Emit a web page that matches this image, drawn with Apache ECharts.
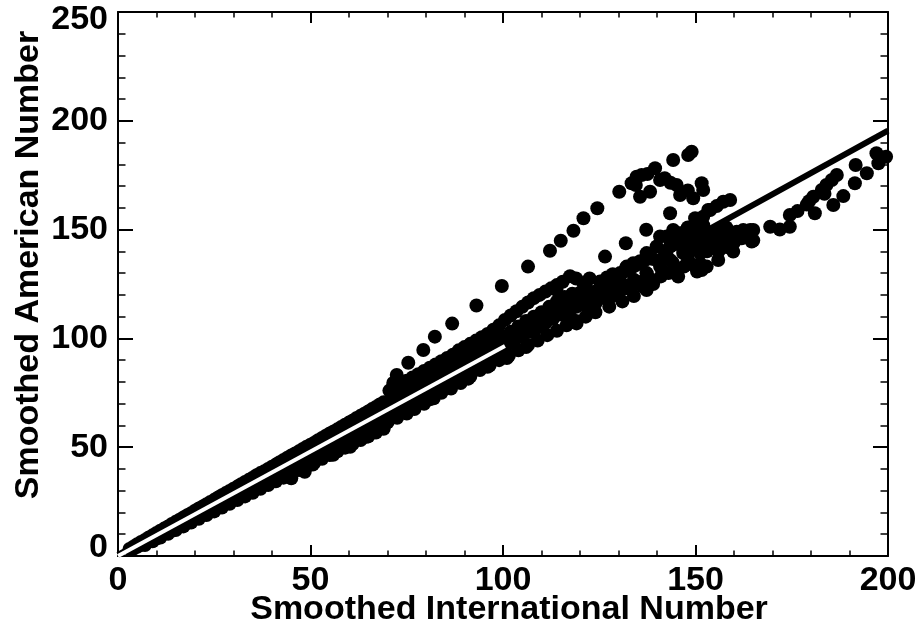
<!DOCTYPE html>
<html>
<head>
<meta charset="utf-8">
<script src="https://cdn.jsdelivr.net/npm/echarts@6/dist/echarts.min.js"></script>
<style>
html,body{margin:0;padding:0;background:#fff;overflow:hidden;}
#chart{width:915px;height:633px;}
</style>
</head>
<body>
<div id="chart"></div>
<script>
// ---- data (x = International, y = American) ----
const xTicks = [0, 50, 100, 150, 200];
const yTicks = [0, 50, 100, 150, 200, 250];

const upperBand = [[3,3.2],[4,4.3],[5,5.4],[6,6.4],[7,7.4],[8,8.5],[9,9.5],[10,10.6],[11,11.6],[12,12.6],[13,13.6],[14,14.7],[15,15.7],[16,16.7],[17,17.7],[18,18.7],[19,19.7],[20,20.8],[21,21.8],[22,22.8],[23,23.8],[24,24.8],[25,25.8],[26,26.9],[27,27.9],[28,28.9],[29,29.9],[30,30.9],[31,31.9],[32,33.0],[33,34.0],[34,35.0],[35,36.0],[36,37.1],[37,38.1],[38,39.0],[39,40.0],[40,41.0],[41,42.0],[42,43.1],[43,44.1],[44,45.2],[45,46.2],[46,47.1],[47,48.1],[48,49.2],[49,50.2],[50,51.1],[51,52.1],[52,53.2],[53,54.2],[54,55.3],[55,56.3],[56,57.2],[57,58.2],[58,59.3],[59,60.3],[60,61.3],[61,62.3],[62,63.4],[63,64.4],[64,65.4],[65,66.4],[66,67.5],[67,68.5],[68,69.6],[69,70.6],
  [71,72],[72,73],[73,74],[74,75],[75,76],[76,77],[77,78],[78,79],[79,80],[80,81],[81,82],[82,83],[83,84],[84,85],[85,86],[86,87],[87,88],[88,89],[89,90],[90,91],[91,92],[92,93],[93,94],[94,95],[95,96],[96,97],[97,98],[98,99],[99,100]];

const bump = [[70.5,76],[71.5,79.5],[73.5,78],[75,80.5],[76.5,82],[78,83.5],[79.5,85],[81,86.5],[82.5,88],[84,89.5],[85.5,91],[87,92.5],[88.5,94.5],[90,96],[91.5,97.5],[93,99],[94.5,100.5],[96,102],[97.5,104],[99,106],[100.5,108.5],[102,110.5],[103.5,112.5],[105,114.5],[106.5,116.5],[108,118.5],[109.5,120],[111,121.5],[112.5,123],[114,124.5],[115.5,126],[117.4,128.6],[119,127.5],[120.9,125.3],[122.5,127.5],[125.2,126.1],[127,128],[128.5,129.5],[130.4,130],[132,132.5],[133.8,134.5],[135.6,135.5],[137.3,130],[139,136.5],[140.8,133],[142.5,138]];

const lowerBand = [[4,3.3],[5,4.2],[6,5.1],[7,6.1],[8,7.0],[9,8.0],[10,8.9],[11,9.8],[12,10.8],[13,11.7],[14,12.7],[15,13.6],[16,14.5],[17,15.5],[18,16.4],[19,17.4],[20,18.3],[21,19.2],[22,20.2],[23,21.1],[24,22.1],[25,23.0],[26,23.9],[27,24.9],[28,25.8],[29,26.8],[30,27.7],[31,28.6],[32,29.6],[33,30.5],[34,31.5],[35,32.4],[36,33.3],[37,34.3],[38,35.2],[39,36.2],[40,37.1],[41,38.0],[42,39.0],[43,39.9],[44,40.9],[45,41.8],[46,42.7],[47,43.7],[48,44.6],[49,45.6],[50,46.5],[51,47.4],[52,48.4],[53,49.3],[54,50.3],[55,51.2],[56,52.1],[57,53.1],[58,54.0],[59,55.0],[60,55.9],[61,56.8],[62,57.8],[63,58.7],[64,59.7],[65,60.6],[66,61.5],[67,62.5],[68,63.4],[69,64.4],[70,65.3],[71,66.2],[72,67.2],[73,68.1],[74,69.1],[75,70.0],[76,70.9],[77,71.9],[78,72.8],[79,73.8],[80,74.7],[81,75.6],[82,76.6],[83,77.5],[84,78.5],[85,79.4],[86,80.3],[87,81.3],[88,82.2],[89,83.2],[90,84.1],[91,85.0],[92,86.0],[93,86.9],[94,87.9],[95,88.8],[96,89.7],[97,90.7],[98,91.6],[99,92.6],[100,93.5]];

const lowerBand2 = [[7,5.0],[9,6.8],[11,8.5],[13,10.2],[15,11.9],[17,13.6],[19,15.4],[21,17.1],[23,18.8],[25,20.5],[27,22.3],[29,24.0],[31,25.7],[33,27.4],[35,29.1],[37,30.9],[39,32.6],[41,34.3],[43,36.0],[45,37.8],[47,39.5],[49,41.2],[51,42.9],[53,44.7],[55,46.4],[57,48.1],[59,49.8],[61,51.6],[63,53.3],[65,55.0],[67,56.7],[69,58.5],
  [10,8.0],[14,11.6],[18,15.2],[22,18.8],[26,22.4],[30,26.0],[34,29.6],[38,33.2],[42,36.8],[46,40.4],[50,44.0],[54,47.6],[58,51.2],[62,54.8],[66,58.4],[70,62.0],
  [37.5,32.5],[45,35.7],[48.5,38.7],[50.6,42],[55.9,46.5],[60.3,50.2],[64.6,54.8],[68.9,58.8]];

const lowerEdge = [[70,61.5],[72.5,63.5],[75,65.5],[77,67.5],[79.5,70],[82,72.5],[84,75],[86.5,77],[89,79.5],[91.5,82.5],[94,85.5],[96.5,87.5],[99,90],[101.5,92],[104,94.5],[106.5,97],[109,99],[111.5,101.5],[114,103.5],[116.5,106],[119,108],[121.5,110],[124,112],[127.6,114.6],[131,117],[134,119.5],[137.3,122.2],
  [73,66],[76,68.5],[81,72],[86,78],[91,81.5],[96,87],[101,91],[106,96]];

const cloud = [[100,101],[102,103],[104,105.5],[106,108],[108,110],[110,112],[112,114.5],[114,117],[116,119],[118,120.5],[120,121],[122,122],[124,121.5],
  [101,97],[103,99],[105,101],[107,103],[109,105],[111,107],[113,109],[115,111],[117,113],[119,114.5],[121,116],[123,117.5],[125,119],
  [102,99.5],[104,101.5],[106,104.5],[108,106.5],[110,108.5],[112,111],[114,113],[116,115],[118,116.5],[120,118.5],[122,119],[124,116],[126,121],[128,124],[130,127],[126,125],[128,119],[130,121],[132,123],[134,124.5],[136,126],[138,127.5],[139,125],[141,128.5],[143,130],[145,132],[147,133],[149,134],
  [113.9,122.2],[119.1,119.2],[123.5,120.7],[113.9,113],[117.4,110],[121.7,114.6],[119.1,106.9],[129.5,122.2],[127,118],[131,125],[134,127],[136.4,123.8],[137.3,129.9],[139.9,142.2],[142.5,146.8],[144.2,149.8],[146,148.3],[147.7,146.8],[149.4,145.2],[143.4,142.2],[146.8,139.2],[145.5,128.4],[151.2,139.2],[152,143.7],[155.5,145.2],[158.1,146.8],[160.7,149],[164.2,149.8],[164.6,144.5],[159.8,139.9],[155.9,136],[151.6,131.4],[150.4,130.7],[141,136],[144,135],[148,137],[150,141],[153,140],[156.4,145.2],[159,148.3],[161.6,147.3],[165,145],[151.2,134.5],[152.9,133],[149,148.5],[151.2,148.3],[140.8,146.8],[145.1,148.3],[147.7,149.8],[137.3,139.2],[132.1,133],[143.4,136],[162.4,149.8],[165,149.8],
  [142,140],[144,144],[146,143],[148,142],[150,144],[152,146],[154,148],[156,149],[158,151],[154,142],[156,140],[158,142],[160,144],[162,146],[148,151],[150,151]];

const risingBranch = [[72.4,83.2],[75.4,88.8],[79.3,94.7],[82.3,100.8],[86.8,106.8],[93.1,115.1],[99.7,124.1],[106.5,133],[112.2,140.3],[115,144.9],[118.3,149.5],[120.9,155.2],[124.5,159.8],[130.2,167.4],[133.4,171.3],[136,175.1],[139.5,178.2],[144.2,182],[148.1,184.3],[149,185.8]];

const upperLoop = [[134.5,170.5],[135.6,165.1],[138.2,167.4],[140.8,172.8],[142,173.6],[143.5,171.5],[145.1,170.5],[146,165.9],[148,168],[149.4,164.4],[151.6,171.3],[152,168.2],[137.5,175.5],[134.7,174.3]];

const middleBranch = [[126.5,137.6],[131.9,143.7],[137.2,149.9],[143.4,157.5],[149.9,155.2],[150.3,154.4],[152,155.9],[153.8,159],[155.5,160.8],[157.2,162.8],[159,163.6],[153.3,159],[152,152]];

const rightBranch = [[169.4,151.3],[171.9,150],[174.5,151.3],[174.5,156.7],[176.5,158.5],[178.9,161.5],[181,157.5],[180.6,165.1],[182.8,168.2],[184,170.5],[185.4,172.8],[186.7,175.1],[185.8,161.3],[188.4,165.4],[191.4,171.3],[191.6,179.7],[194.5,175.9],[197,185.1],[197.5,180.5],[199.5,183.5],[183.5,166.5],[179.5,163]];

const blackFit = [[0,0.5],[200,195.5]];
const whiteFit = [[0,0],[100.5,96.5]];

// ---- chart ----
const points = [].concat(upperBand, bump, lowerBand, lowerBand2, lowerEdge, cloud, risingBranch, upperLoop, middleBranch, rightBranch);
const FONT = 'Liberation Sans, Arial, Helvetica, sans-serif';
const chart = echarts.init(document.getElementById('chart'), null, {renderer:'canvas'});

function axisBase(pos, tickLen, minorLen) {
  return {
    type:'value', position: pos,
    axisLine:{show:true, onZero:false, lineStyle:{color:'#000', width:2}},
    axisTick:{show:true, inside:true, length:tickLen, lineStyle:{color:'#000', width:2}},
    minorTick:{show:true, splitNumber:5, length:minorLen, lineStyle:{color:'#000', width:1.5}},
    splitLine:{show:false}, minorSplitLine:{show:false}
  };
}

const xMain = Object.assign(axisBase('bottom', 11, 5.5), {
  min: xTicks[0], max: xTicks[xTicks.length-1], interval: 50,
  axisLabel:{color:'#000', fontSize:34, fontWeight:'bold', fontFamily:FONT, margin:8},
  name:'Smoothed International Number', nameLocation:'middle', nameGap:37, nameMoveOverlap:false,
  nameTextStyle:{color:'#000', fontSize:34, fontWeight:'bold', fontFamily:FONT, padding:[0,0,0,12]}
});
const xTop = Object.assign(axisBase('top', 11, 5.5), {
  min: xTicks[0], max: xTicks[xTicks.length-1], interval: 50, axisLabel:{show:false}
});
const yMain = Object.assign(axisBase('left', 15, 7.5), {
  min: yTicks[0], max: yTicks[yTicks.length-1], interval: 50,
  axisLabel:{color:'#000', fontSize:34, fontWeight:'bold', fontFamily:FONT, margin:10,
    formatter: function(v){ if (v === 0) return '{lo|0}'; if (v === 250) return '{hi|250}'; return String(v); },
    rich:{
      lo:{color:'#000', fontSize:34, fontWeight:'bold', fontFamily:FONT, padding:[0,0,16,0]},
      hi:{color:'#000', fontSize:34, fontWeight:'bold', fontFamily:FONT, padding:[16,0,0,0]}
    }},
  name:'Smoothed American Number', nameLocation:'middle', nameGap:72, nameMoveOverlap:false,
  nameTextStyle:{color:'#000', fontSize:34, fontWeight:'bold', fontFamily:FONT, padding:[0,0,0,38]}
});
const yRight = Object.assign(axisBase('right', 15, 7.5), {
  min: yTicks[0], max: yTicks[yTicks.length-1], interval: 50, axisLabel:{show:false}
});

chart.setOption({
  animation:false,
  backgroundColor:'#fff',
  grid:{left:118, right:27, top:12, bottom:77, containLabel:false, outerBoundsMode:'none'},
  xAxis:[xMain, xTop],
  yAxis:[yMain, yRight],
  series:[
    {type:'line', data:blackFit, symbol:'none', z:1, lineStyle:{color:'#000', width:6}, silent:true},
    {type:'scatter', data:points, symbol:'circle', symbolSize:14, z:2, itemStyle:{color:'#000', opacity:1}, silent:true},
    {type:'line', data:whiteFit, symbol:'none', z:5, lineStyle:{color:'#fff', width:4}, silent:true}
  ]
});
</script>
</body>
</html>
